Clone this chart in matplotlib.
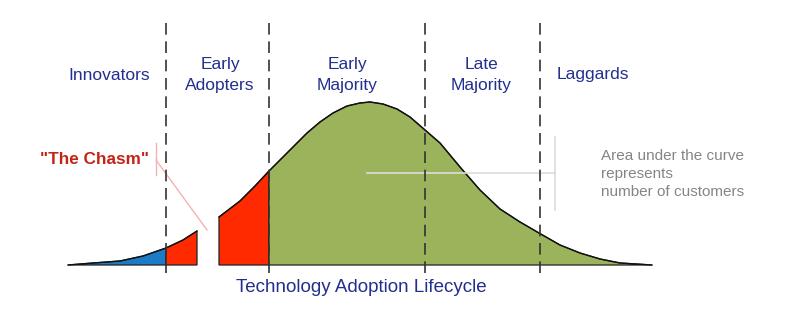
import matplotlib
matplotlib.use("Agg")
import matplotlib.pyplot as plt
import numpy as np

plt.rcParams["font.family"] = ["Liberation Sans", "DejaVu Sans"]

# curve: position along the lifecycle and height above baseline
curve_x = [68, 93, 120, 143, 166, 183, 197, 219, 240, 255, 269, 280, 293, 307, 320, 333, 347,
           360, 370, 383, 397, 410, 425, 440, 460, 480, 500, 520, 539, 560, 580, 600, 620, 652]
curve_h = [0, 2, 4, 9, 17, 25, 34, 48, 64, 79, 94, 105, 118, 132, 143, 152, 159,
           162, 163, 161, 156, 148, 135, 122, 98, 75, 56, 43, 32, 20, 12, 6, 2, 0]

# segment boundaries (innovators | early adopters | chasm | early adopters | majority + laggards)
seg_bounds = [(68, 166), (166, 197), (219, 269), (269, 652)]
seg_colors = ["#1b7bc4", "#ff2a00", "#ff2a00", "#9bb35a"]

divider_x = [166, 269, 425, 540]
group_labels = ["Innovators", "Early\nAdopters", "Early\nMajority", "Late\nMajority", "Laggards"]
group_label_x = [109, 220, 347, 481, 593]

title_text = "Technology Adoption Lifecycle"
note_text = "Area under the curve\nrepresents\nnumber of customers"

fig = plt.figure(figsize=(7.91, 3.15), dpi=100)
ax = fig.add_axes([0, 0, 1, 1])
ax.set_xlim(0, 791)
ax.set_ylim(-50, 265)
ax.axis("off")

cx = np.array(curve_x)
ch = np.array(curve_h)
for (x0, x1), col in zip(seg_bounds, seg_colors):
    m = (cx >= x0) & (cx <= x1)
    xs = np.concatenate([[x0], cx[m], [x1]])
    ys = np.concatenate([[0], ch[m], [0]])
    ax.fill(xs, ys, facecolor=col, edgecolor="#222222", lw=0.9, zorder=2)

# top outline of the curve
for (x0, x1) in [(68, 197), (219, 652)]:
    m = (cx >= x0) & (cx <= x1)
    ax.plot(cx[m], ch[m], color="#111111", lw=1.0, zorder=3)

for xd in divider_x:
    ax.plot([xd, xd], [-8, 248], color="#333333", lw=1.2, dashes=(7, 4), zorder=4)

navy = "#232f8e"
for lab, lx in zip(group_labels, group_label_x):
    ax.text(lx, 190, lab, ha="center", va="center", fontsize=12.5, color=navy,
            linespacing=1.5)

ax.text(361, -23, title_text, ha="center", va="center", fontsize=13.5, color=navy)

# the chasm callout
ax.text(94, 105, '"The Chasm"', ha="center", va="center", fontsize=12.3, color="#c42318",
        fontweight="bold")
ax.plot([156, 156], [90, 122], color="#f2b4b0", lw=1, zorder=1)
ax.plot([156, 207], [105, 35], color="#f2b4b0", lw=1, zorder=1)

# area note
ax.plot([367, 555], [92, 92], color="#dcdcdc", lw=1.2, zorder=3)
ax.plot([555, 555], [55, 128], color="#dcdcdc", lw=1.2, zorder=3)
ax.text(601, 91, note_text, ha="left", va="center", fontsize=11, color="#858585",
        linespacing=1.4)

fig.savefig("out.png", dpi=100)
